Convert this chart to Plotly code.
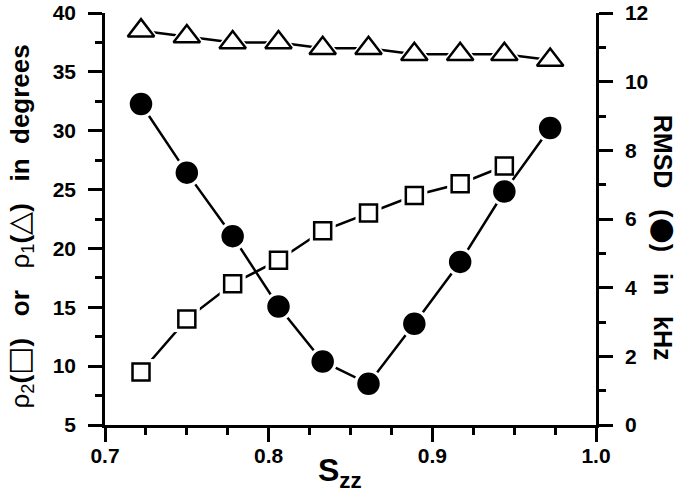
import plotly.graph_objects as go

# S_zz order parameter values (x axis)
szz = [0.722, 0.750, 0.778, 0.806, 0.833, 0.861, 0.889, 0.917, 0.944, 0.972]

# rho_1 (triangles), degrees
rho1 = [38.5, 38.0, 37.5, 37.5, 37.0, 37.0, 36.5, 36.5, 36.5, 36.0]
# rho_2 (squares), degrees - no point at the last S_zz
rho2 = [9.5, 14.0, 17.0, 19.0, 21.5, 23.0, 24.5, 25.5, 27.0]
# RMSD (filled circles), kHz, right axis
rmsd = [9.35, 7.35, 5.5, 3.45, 1.85, 1.2, 2.95, 4.75, 6.8, 8.65]

FONT = "Liberation Sans"
LW = 2.5

fig = go.Figure()


def add_series(x, y, symbol, size, fill, yaxis="y"):
    # line
    fig.add_trace(go.Scatter(x=x, y=y, mode="lines", yaxis=yaxis,
                             line=dict(color="black", width=LW), hoverinfo="skip"))
    # white halo so the line stops short of the markers
    fig.add_trace(go.Scatter(x=x, y=y, mode="markers", yaxis=yaxis,
                             marker=dict(symbol=symbol, size=size + 9, color="white",
                                         line=dict(width=0)), hoverinfo="skip"))
    # the markers
    fig.add_trace(go.Scatter(x=x, y=y, mode="markers", yaxis=yaxis,
                             marker=dict(symbol=symbol, size=size, color=fill,
                                         line=dict(color="black", width=2.5))))


add_series(szz, rho1, "triangle-up", 23, "white")
add_series(szz[:len(rho2)], rho2, "square", 17, "white")
add_series(szz, rmsd, "circle", 20, "black", yaxis="y2")

tickfont = dict(family=FONT, size=21, color="black", weight="bold")
axis_common = dict(showline=True, linecolor="black", linewidth=2.5,
                   ticks="outside", ticklen=14, tickwidth=2.5, tickcolor="black",
                   showgrid=False, zeroline=False, tickfont=tickfont,
                   tickprefix="<b>", ticksuffix="</b>", automargin=False)
minor_common = dict(ticks="outside", ticklen=7, tickwidth=2.5, tickcolor="black")

fig.update_layout(
    width=683, height=497,
    margin=dict(l=105, r=87, t=13, b=72),
    plot_bgcolor="white", paper_bgcolor="white",
    showlegend=False,
    xaxis=dict(range=[0.7, 1.0], dtick=0.1, tick0=0.7, tickformat=".1f",
               ticklabelstandoff=-4, minor=dict(dtick=0.025, **minor_common),
               **axis_common),
    yaxis=dict(range=[5, 40], dtick=5, tick0=5, ticklabelstandoff=8,
               minor=dict(dtick=2.5, **minor_common), **axis_common),
    yaxis2=dict(range=[0, 12], dtick=2, tick0=0, overlaying="y", side="right",
                ticklabelstandoff=8, minor=dict(dtick=1, **minor_common),
                **axis_common),
)

big = '<span style="font-family:DejaVu Sans;font-size:30px">{}</span>'
fig.add_annotation(
    text=("ρ<sub>2</sub><b>(</b>" + big.format("□") + "<b>)&nbsp;&nbsp;&nbsp;or&nbsp;&nbsp;&nbsp;</b>"
          "ρ<sub>1</sub><b>(</b>" + big.format("△") + "<b>)&nbsp;&nbsp;&nbsp;in&nbsp;&nbsp;degrees</b>"),
    xref="paper", yref="paper", x=-0.175, y=0.482, textangle=-90,
    showarrow=False, xanchor="center", yanchor="middle",
    font=dict(family=FONT, size=26, color="black"),
)
fig.add_annotation(
    text="<b>RMSD&nbsp;&nbsp;&nbsp;(</b>" + big.format("●") + "<b>)&nbsp;&nbsp;&nbsp;in&nbsp;&nbsp;&nbsp;kHz</b>",
    xref="paper", yref="paper", x=1.14, y=0.455, textangle=90,
    showarrow=False, xanchor="center", yanchor="middle",
    font=dict(family=FONT, size=25, color="black"),
)
fig.add_annotation(
    text="<b>S<sub>zz</sub></b>",
    xref="paper", yref="paper", x=0.478, y=-0.06,
    showarrow=False, xanchor="center", yanchor="top",
    font=dict(family=FONT, size=32, color="black"),
)

# page body has an 8px default margin; drop it so the figure sits at the window corner
fig.write_html("out.html", config={"displayModeBar": False},
               post_script="document.body.style.margin='0';")
